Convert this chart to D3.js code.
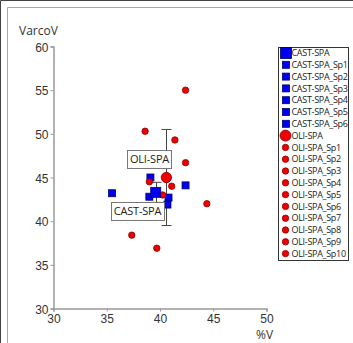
<!DOCTYPE html>
<html>
<head>
<meta charset="utf-8">
<script src="https://cdn.jsdelivr.net/npm/d3@7"></script>
<style>
  body { margin: 0; background: #fff; }
  svg { display: block; font-family: "Open Sans", "Noto Sans", sans-serif; }
</style>
</head>
<body>
<div id="chart"></div>
<script>
// group means with their standard deviation on VarcoV
var meanNames = ["CAST-SPA", "OLI-SPA"];
var meanX = [39.6, 40.6];
var meanY = [43.3, 45.0];
var meanErr = [1.15, 5.5];

// single samples
var castNames = ["CAST-SPA_Sp1", "CAST-SPA_Sp2", "CAST-SPA_Sp3", "CAST-SPA_Sp4", "CAST-SPA_Sp5", "CAST-SPA_Sp6"];
var castX = [35.5, 39.1, 39.0, 40.8, 40.7, 42.4];
var castY = [43.2, 45.0, 42.8, 42.7, 41.9, 44.1];

var oliNames = ["OLI-SPA_Sp1", "OLI-SPA_Sp2", "OLI-SPA_Sp3", "OLI-SPA_Sp4", "OLI-SPA_Sp5",
                "OLI-SPA_Sp6", "OLI-SPA_Sp7", "OLI-SPA_Sp8", "OLI-SPA_Sp9", "OLI-SPA_Sp10"];
var oliX = [42.4, 38.6, 41.4, 42.4, 39.0, 41.1, 40.25, 44.4, 37.35, 39.7];
var oliY = [55.0, 50.3, 49.3, 46.7, 44.5, 44.0, 43.0, 42.0, 38.4, 36.9];

var xTicks = [30, 35, 40, 45, 50];
var yTicks = [30, 35, 40, 45, 50, 55, 60];

var width = 353, height = 343;
var blue = "#0000f0", blueEdge = "#00006a";
var red = "#f00000", redEdge = "#8a0000";

var svg = d3.select("#chart").append("svg")
    .attr("width", width)
    .attr("height", height);

// window frame
svg.append("path").attr("d", "M0.5,343V0.5H353").attr("fill", "none").attr("stroke", "#444");
svg.append("path").attr("d", "M7.5,343V7.5H353").attr("fill", "none").attr("stroke", "#a8a8a8");

var x = d3.scaleLinear().domain([30, 50]).range([53.5, 266.5]);
var y = d3.scaleLinear().domain([30, 60]).range([308.5, 46.5]);

var xAxis = svg.append("g")
    .attr("transform", "translate(0," + y(30) + ")")
    .call(d3.axisBottom(x).tickValues(xTicks).tickSize(3).tickPadding(3));

var yAxis = svg.append("g")
    .attr("transform", "translate(" + x(30) + ",0)")
    .call(d3.axisLeft(y).tickValues(yTicks).tickSize(3).tickPadding(2));

[xAxis, yAxis].forEach(function (a) {
    a.select(".domain").attr("stroke", "#999").attr("stroke-width", 1.5);
    a.selectAll(".tick line").attr("stroke", "#999");
    a.selectAll(".tick text").attr("fill", "#333").style("font-size", "12px");
});
yAxis.selectAll(".tick text").attr("dy", "0.4em");

svg.append("text").attr("x", 19).attr("y", 35)
    .attr("fill", "#333").style("font-size", "12px").text("VarcoV");
svg.append("text").attr("x", 256).attr("y", 339)
    .attr("fill", "#333").style("font-size", "12px").text("%V");

// error bars
var errG = svg.append("g").attr("stroke", "#444").attr("stroke-width", 1);
meanNames.forEach(function (n, i) {
    var cx = Math.round(x(meanX[i])) + 0.5;
    var top = y(meanY[i] + meanErr[i]), bot = y(meanY[i] - meanErr[i]);
    errG.append("line").attr("x1", cx).attr("x2", cx).attr("y1", top).attr("y2", bot);
    errG.append("line").attr("x1", cx - 5).attr("x2", cx + 5).attr("y1", top).attr("y2", top);
    errG.append("line").attr("x1", cx - 5).attr("x2", cx + 5).attr("y1", bot).attr("y2", bot);
});

function square(g, cx, cy, s) {
    g.append("rect").attr("x", cx - s / 2).attr("y", cy - s / 2)
        .attr("width", s).attr("height", s)
        .attr("fill", blue).attr("stroke", blueEdge).attr("stroke-width", 0.8);
}
function circle(g, cx, cy, r) {
    g.append("circle").attr("cx", cx).attr("cy", cy).attr("r", r)
        .attr("fill", red).attr("stroke", redEdge).attr("stroke-width", 0.8);
}

var marks = svg.append("g");
castX.forEach(function (v, i) { square(marks, x(v), y(castY[i]), 7); });
oliX.forEach(function (v, i) { circle(marks, x(v), y(oliY[i]), 3.2); });
square(marks, x(meanX[0]), y(meanY[0]), 10);
circle(marks, x(meanX[1]), y(meanY[1]), 5.2);

// group labels
var labels = [
    {text: meanNames[1], cx: 149.5, cy: 159},
    {text: meanNames[0], cx: 137.5, cy: 211}
];
labels.forEach(function (l) {
    var g = svg.append("g");
    var t = g.append("text").attr("x", l.cx).attr("y", l.cy)
        .attr("text-anchor", "middle").attr("dy", "0.36em")
        .attr("fill", "#222").style("font-size", "11px").style("letter-spacing", "-0.2px")
        .text(l.text);
    var bb = t.node().getBBox();
    g.insert("rect", "text")
        .attr("x", Math.round(bb.x - 3) + 0.5).attr("y", Math.round(l.cy - 9) + 0.5)
        .attr("width", Math.round(bb.width + 5)).attr("height", 18)
        .attr("fill", "#fff").attr("stroke", "#777");
});

// legend
var legendItems = [{name: meanNames[0], kind: "sq", big: true}]
    .concat(castNames.map(function (n) { return {name: n, kind: "sq", big: false}; }))
    .concat([{name: meanNames[1], kind: "ci", big: true}])
    .concat(oliNames.map(function (n) { return {name: n, kind: "ci", big: false}; }));

var leg = svg.append("g");
leg.append("rect").attr("x", 278.5).attr("y", 47.5).attr("width", 70).attr("height", 213)
    .attr("fill", "#fff").attr("stroke", "#333");
legendItems.forEach(function (d, i) {
    var cy = 53 + i * 11.8;
    if (d.kind === "sq") square(leg, 286, cy, d.big ? 11 : 7);
    else circle(leg, 285.5, cy, d.big ? 5.5 : 3.2);
    leg.append("text").attr("x", 291.5).attr("y", cy).attr("dy", "0.36em")
        .attr("fill", "#222").style("font-size", "9px").style("letter-spacing", "-0.3px")
        .text(d.name);
});
</script>
</body>
</html>
